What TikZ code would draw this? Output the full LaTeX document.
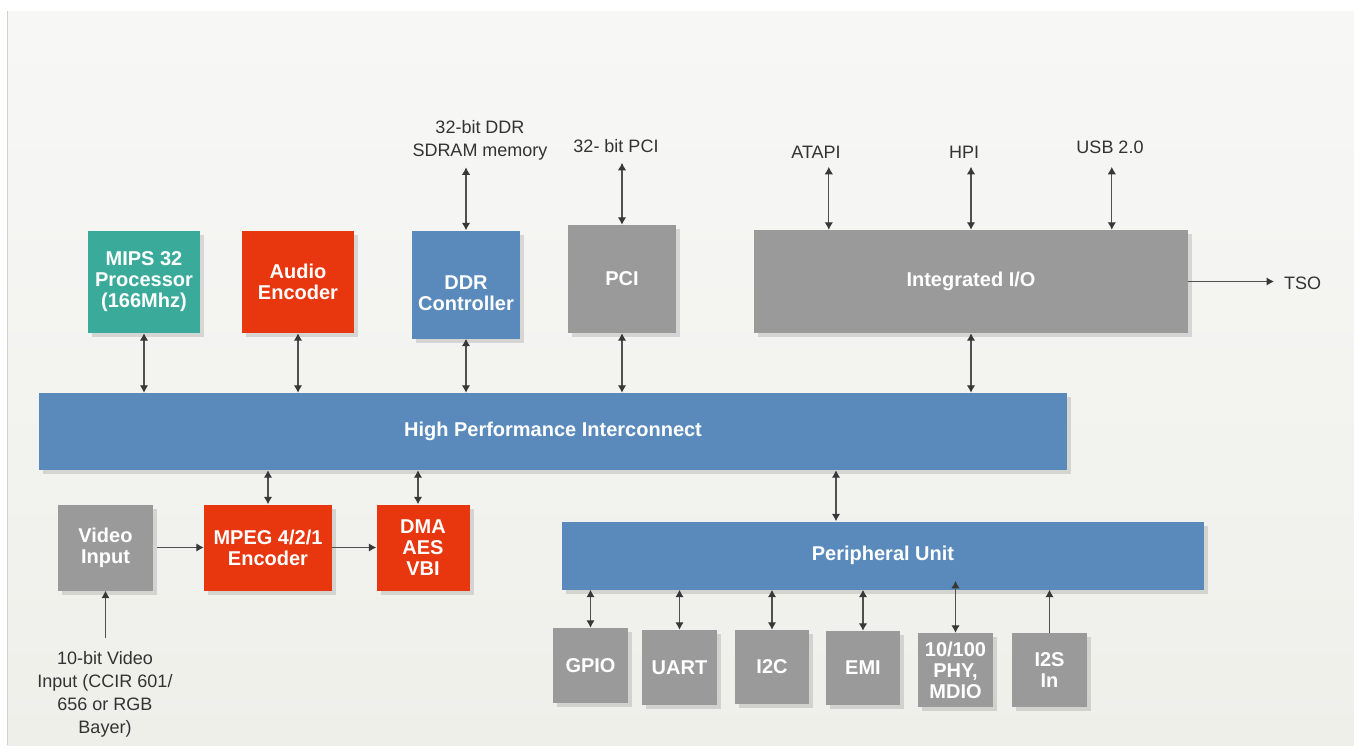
\documentclass[tikz,border=0pt]{standalone}
\usepackage{fontspec}
\setmainfont{Liberation Sans}
\usetikzlibrary{arrows.meta,shadows}

\definecolor{tealbox}{HTML}{3AAB9B}
\definecolor{redbox}{HTML}{E8360E}
\definecolor{bluebox}{HTML}{5A8ABB}
\definecolor{graybox}{HTML}{9A9A9A}
\definecolor{wire}{HTML}{505050}
\definecolor{tipcolor}{HTML}{383838}
\definecolor{labeltext}{HTML}{333333}
\definecolor{paneltop}{HTML}{F7F7F6}
\definecolor{panelbottom}{HTML}{EFEFEA}

\tikzset{
  block/.style={fill=#1, inner sep=0pt, text=white,
    font=\bfseries\fontsize{20}{21}\selectfont, align=center,
    drop shadow={shadow xshift=4pt, shadow yshift=-4pt, opacity=0.12, fill=black}},
  lbl/.style={text=labeltext, font=\fontsize{18}{23}\selectfont, align=center, inner sep=0pt},
  tipshape/.tip={Latex[length=7.5pt,width=8.5pt,color=tipcolor]},
  biarrow/.style={draw=wire, line width=1.3pt, tipshape-tipshape},
  onearrow/.style={draw=wire, line width=1.3pt, -tipshape},
}

\begin{document}
\begin{tikzpicture}[x=1pt,y=-1pt]
\useasboundingbox (0,0) rectangle (1354,747);
% page and panel
\fill[white] (0,0) rectangle (1354,747);
\shade[top color=paneltop, bottom color=panelbottom] (7,11) rectangle (1354,745);
\draw[black!18, line width=1pt] (7,11) -- (7,745);

% top row of blocks
\node[block=tealbox, minimum width=112pt, minimum height=102pt] (mips) at (144,282) {MIPS 32\\Processor\\(166Mhz)};
\node[block=redbox, minimum width=112pt, minimum height=102pt] (audio) at (298,282) {Audio\\Encoder};
\node[block=bluebox, minimum width=108pt, minimum height=108pt] (ddr) at (466,284.5) {};
\node[text=white, font=\bfseries\fontsize{20}{21}\selectfont, align=center, inner sep=0pt] (ddrtext) at (466,293) {DDR\\Controller};
\node[block=graybox, minimum width=108pt, minimum height=108pt] (pci) at (622,279) {PCI};
\node[block=graybox, minimum width=434pt, minimum height=103pt] (iio) at (971,281.5) {Integrated I/O};

% interconnect
\node[block=bluebox, minimum width=1028pt, minimum height=77pt] (bus) at (553,431.5) {High Performance Interconnect};

% video path
\node[block=graybox, minimum width=95pt, minimum height=86pt] (video) at (105.5,547.5) {Video\\Input};
\node[block=redbox, minimum width=128pt, minimum height=86pt] (mpeg) at (268,547.5) {MPEG 4/2/1\\Encoder};
\node[block=redbox, minimum width=93pt, minimum height=86pt] (dma) at (423,547.5) {DMA\\AES\\VBI};

% peripherals
\node[block=bluebox, minimum width=642pt, minimum height=68pt] (periph) at (883,555.5) {Peripheral Unit};
\node[block=graybox, minimum width=75pt, minimum height=75pt] (gpio) at (590.5,665.5) {GPIO};
\node[block=graybox, minimum width=75pt, minimum height=75pt] (uart) at (679.5,667.5) {UART};
\node[block=graybox, minimum width=74pt, minimum height=74pt] (i2c) at (772,667) {I2C};
\node[block=graybox, minimum width=74pt, minimum height=74pt] (emi) at (863,668) {EMI};
\node[block=graybox, minimum width=75pt, minimum height=74pt] (phy) at (955.5,670) {10/100\\PHY,\\MDIO};
\node[block=graybox, minimum width=75pt, minimum height=74pt] (i2s) at (1049.5,670) {I2S\\In};

% external interface labels
\node[lbl] (ddrlbl) at (480,140.5) {32-bit DDR\\SDRAM memory};
\node[lbl] (pcilbl) at (616,146) {32- bit PCI};
\node[lbl] (atapi) at (816,152) {ATAPI};
\node[lbl] (hpi) at (964,152) {HPI};
\node[lbl] (usb) at (1110,147) {USB 2.0};
\node[lbl, anchor=west] (tso) at (1284,283) {TSO};
\node[lbl] (vinlbl) at (105,694) {10-bit Video\\Input (CCIR 601/\\656 or RGB\\Bayer)};

% external links
\draw[biarrow] (ddr.north) -- ++(0,-63);
\draw[biarrow] (pci.north) -- ++(0,-62);
\draw[biarrow] ([xshift=75pt]iio.north west) -- ++(0,-63);
\draw[biarrow] (iio.north) -- ++(0,-63);
\draw[biarrow] ([xshift=358pt]iio.north west) -- ++(0,-63);
\draw[onearrow, shorten >=10pt] (iio.east) -- (iio.east -| tso.west);

% interconnect links
\draw[biarrow] (mips.south) -- (mips.south |- bus.north);
\draw[biarrow] (audio.south) -- (audio.south |- bus.north);
\draw[biarrow] (ddr.south) -- (ddr.south |- bus.north);
\draw[biarrow] (pci.south) -- (pci.south |- bus.north);
\draw[biarrow] (iio.south) -- (iio.south |- bus.north);
\draw[biarrow] (mpeg.north) -- (mpeg.north |- bus.south);
\draw[biarrow] ([xshift=-5pt]dma.north) -- ([xshift=-5pt]dma.north |- bus.south);
\draw[biarrow] ([xshift=-47pt]periph.north) -- ([xshift=-47pt]periph.north |- bus.south);

% video data flow
\draw[onearrow] ([yshift=-47pt]video.south) -- (video.south);
\draw[onearrow, shorten <=4pt] (video.east) -- (mpeg.west);
\draw[onearrow] (mpeg.east) -- (dma.west);

% peripheral links
\draw[biarrow] (gpio.north) -- (gpio.north |- periph.south);
\draw[biarrow] (uart.north) -- (uart.north |- periph.south);
\draw[biarrow] (i2c.north) -- (i2c.north |- periph.south);
\draw[biarrow] (emi.north) -- (emi.north |- periph.south);
\draw[biarrow] (phy.north) -- ++(0,-52);
\draw[onearrow] (i2s.north) -- (i2s.north |- periph.south);
\end{tikzpicture}
\end{document}
